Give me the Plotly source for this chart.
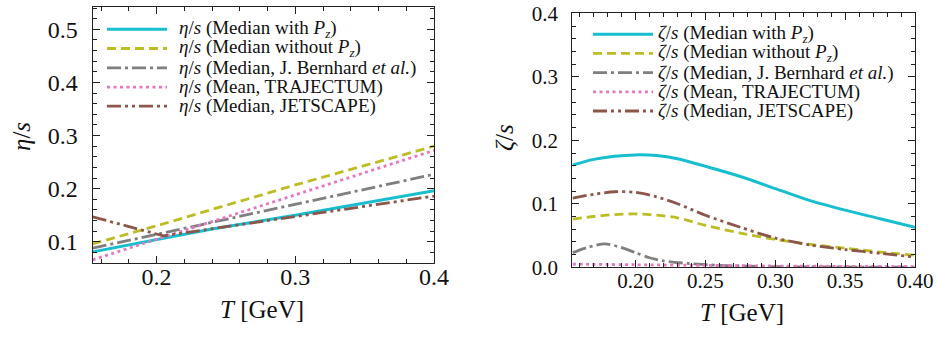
import plotly.graph_objects as go

# ---------------- data: eta/s (left panel) ----------------
T_eta_with = [0.154, 0.24, 0.3, 0.4]
eta_with = [0.081, 0.124, 0.150, 0.196]
T_eta_without = [0.154, 0.2, 0.3, 0.4]
eta_without = [0.096, 0.130, 0.207, 0.280]
T_eta_bern = [0.154, 0.4]
eta_bern = [0.088, 0.227]
T_eta_traj = [0.154, 0.4]
eta_traj = [0.066, 0.272]
T_eta_jet = [0.154, 0.205, 0.4]
eta_jet = [0.147, 0.111, 0.186]

# ---------------- data: zeta/s (right panel) ----------------
T_z = [0.155, 0.17, 0.185, 0.2, 0.215, 0.23, 0.25, 0.275, 0.3, 0.325, 0.35, 0.375, 0.4]
zeta_with = [0.161, 0.170, 0.175, 0.177, 0.176, 0.171, 0.159, 0.143, 0.124, 0.105, 0.090, 0.0765, 0.063]
zeta_without = [0.076, 0.080, 0.083, 0.084, 0.082, 0.078, 0.066, 0.054, 0.044, 0.036, 0.030, 0.024, 0.019]
zeta_jet = [0.109, 0.115, 0.119, 0.118, 0.111, 0.100, 0.082, 0.063, 0.046, 0.035, 0.028, 0.022, 0.016]
T_z_bern = [0.155, 0.165, 0.178, 0.19, 0.2, 0.21, 0.22, 0.238, 0.26, 0.3, 0.35, 0.4]
zeta_bern = [0.023, 0.031, 0.037, 0.031, 0.023, 0.015, 0.010, 0.006, 0.003, 0.001, 0.0005, 0.0]
T_z_traj = [0.155, 0.2, 0.25, 0.3, 0.35, 0.4]
zeta_traj = [0.005, 0.004, 0.003, 0.002, 0.0015, 0.001]

# ---------------- labels / ticks ----------------
labels = [
    "(Median with <i>P<sub>z</sub></i>)",
    "(Median without <i>P<sub>z</sub></i>)",
    "(Median, J. Bernhard <i>et al.</i>)",
    "(Mean, TRAJECTUM)",
    "(Median, JETSCAPE)",
]
left_xticks = [0.2, 0.3, 0.4]
left_yticks = [0.1, 0.2, 0.3, 0.4, 0.5]
right_xticks = [0.2, 0.25, 0.3, 0.35, 0.4]
right_yticks = [0.0, 0.1, 0.2, 0.3, 0.4]

colors = ["#17becf", "#bcbd22", "#7f7f7f", "#e377c2", "#8c564b"]
dashes = ["solid", "9px,5px", "14px,4px,3px,4px", "3px,3.5px", "14px,4px,3px,4px,3px,4px"]
widths = [3, 2.8, 2.8, 2.8, 2.8]

FONT = "Liberation Serif"
W, H = 938, 361


def px_x(p):
    return p / W


def px_y(p):
    return 1 - p / H


fig = go.Figure()

left_data = [(T_eta_with, eta_with), (T_eta_without, eta_without), (T_eta_bern, eta_bern),
             (T_eta_traj, eta_traj), (T_eta_jet, eta_jet)]
right_data = [(T_z, zeta_with), (T_z, zeta_without), (T_z_bern, zeta_bern),
              (T_z_traj, zeta_traj), (T_z, zeta_jet)]

for i, (x, y) in enumerate(left_data):
    fig.add_trace(go.Scatter(
        x=x, y=y, mode="lines", xaxis="x", yaxis="y", showlegend=False,
        name="η/s " + labels[i],
        line=dict(color=colors[i], dash=dashes[i], width=widths[i]),
    ))

for i, (x, y) in enumerate(right_data):
    fig.add_trace(go.Scatter(
        x=x, y=y, mode="lines", xaxis="x2", yaxis="y2", showlegend=False,
        name="ζ/s " + labels[i],
        line=dict(color=colors[i], dash=dashes[i], width=widths[i], shape="spline", smoothing=0.8),
    ))

axis_common = dict(
    showline=True, linecolor="#222", linewidth=1.2, mirror="ticks",
    ticks="inside", ticklen=7, tickwidth=1, tickcolor="#222",
    showgrid=False, zeroline=False, automargin=False,
)
minor_common = dict(ticks="inside", ticklen=4, tickcolor="#222", tick0=0, showgrid=False)

# ---------------- hand-placed legends (line samples + real text) ----------------
shapes = []
annotations = []
left_rows = [29.3, 48.5, 67.8, 87.2, 106.2]
right_rows = [34.3, 53.4, 72.6, 91.8, 111.0]
for i in range(5):
    for rows, x0, x1, xt, sym in [(left_rows, 107, 167, 177, "η"), (right_rows, 593, 653, 656, "ζ")]:
        yy = px_y(rows[i])
        shapes.append(dict(type="line", xref="paper", yref="paper",
                           x0=px_x(x0), x1=px_x(x1), y0=yy, y1=yy,
                           line=dict(color=colors[i], dash=dashes[i], width=widths[i])))
        annotations.append(dict(text="<i>%s</i>/<i>s</i> %s" % (sym, labels[i]),
                                x=px_x(xt), y=yy, xref="paper", yref="paper",
                                xanchor="left", yanchor="middle", showarrow=False,
                                font=dict(size=19, family=FONT, color="#111")))

annotations += [
    dict(text="<i>η</i>/<i>s</i>", x=px_x(22), y=px_y(137), xref="paper", yref="paper",
         xanchor="center", yanchor="middle",
         showarrow=False, textangle=-90, font=dict(size=25, family=FONT)),
    dict(text="<i>ζ</i>/<i>s</i>", x=px_x(504), y=px_y(138), xref="paper", yref="paper",
         xanchor="center", yanchor="middle",
         showarrow=False, textangle=-90, font=dict(size=25, family=FONT)),
    dict(text="<i>T</i> [GeV]", x=px_x(262), y=px_y(309), xref="paper", yref="paper",
         xanchor="center", yanchor="middle",
         showarrow=False, font=dict(size=25, family=FONT)),
    dict(text="<i>T</i> [GeV]", x=px_x(742), y=px_y(312), xref="paper", yref="paper",
         xanchor="center", yanchor="middle",
         showarrow=False, font=dict(size=25, family=FONT)),
]

fig.update_layout(
    width=W, height=H,
    margin=dict(l=0, r=0, t=0, b=0, pad=0),
    paper_bgcolor="white", plot_bgcolor="white",
    font=dict(family=FONT, color="#111"),
    showlegend=False,
    xaxis=dict(
        domain=[px_x(92.7), px_x(434)], range=[0.154, 0.4], anchor="y",
        tickvals=left_xticks, ticktext=["%.1f" % v for v in left_xticks],
        minor=dict(dtick=0.02, **minor_common),
        tickfont=dict(size=24, family=FONT), ticklabelstandoff=-8,
        **axis_common,
    ),
    yaxis=dict(
        domain=[px_y(262.7), px_y(7)], range=[0.0606, 0.542], anchor="x",
        tickvals=left_yticks, ticktext=["%.1f" % v for v in left_yticks],
        minor=dict(dtick=0.02, **minor_common),
        tickfont=dict(size=24, family=FONT), ticklabelstandoff=9,
        **axis_common,
    ),
    xaxis2=dict(
        domain=[px_x(572.3), px_x(915)], range=[0.1547, 0.4], anchor="y2",
        tickvals=right_xticks, ticktext=["%.2f" % v for v in right_xticks],
        minor=dict(dtick=0.01, **minor_common),
        tickfont=dict(size=21, family=FONT), ticklabelstandoff=-6,
        **axis_common,
    ),
    yaxis2=dict(
        domain=[px_y(267.3), px_y(13.3)], range=[0, 0.4], anchor="x2",
        tickvals=right_yticks, ticktext=["%.1f" % v for v in right_yticks],
        minor=dict(dtick=0.02, **minor_common),
        tickfont=dict(size=21, family=FONT), ticklabelstandoff=9,
        **axis_common,
    ),
    shapes=shapes,
    annotations=annotations,
)

fig.write_html("out.html")
